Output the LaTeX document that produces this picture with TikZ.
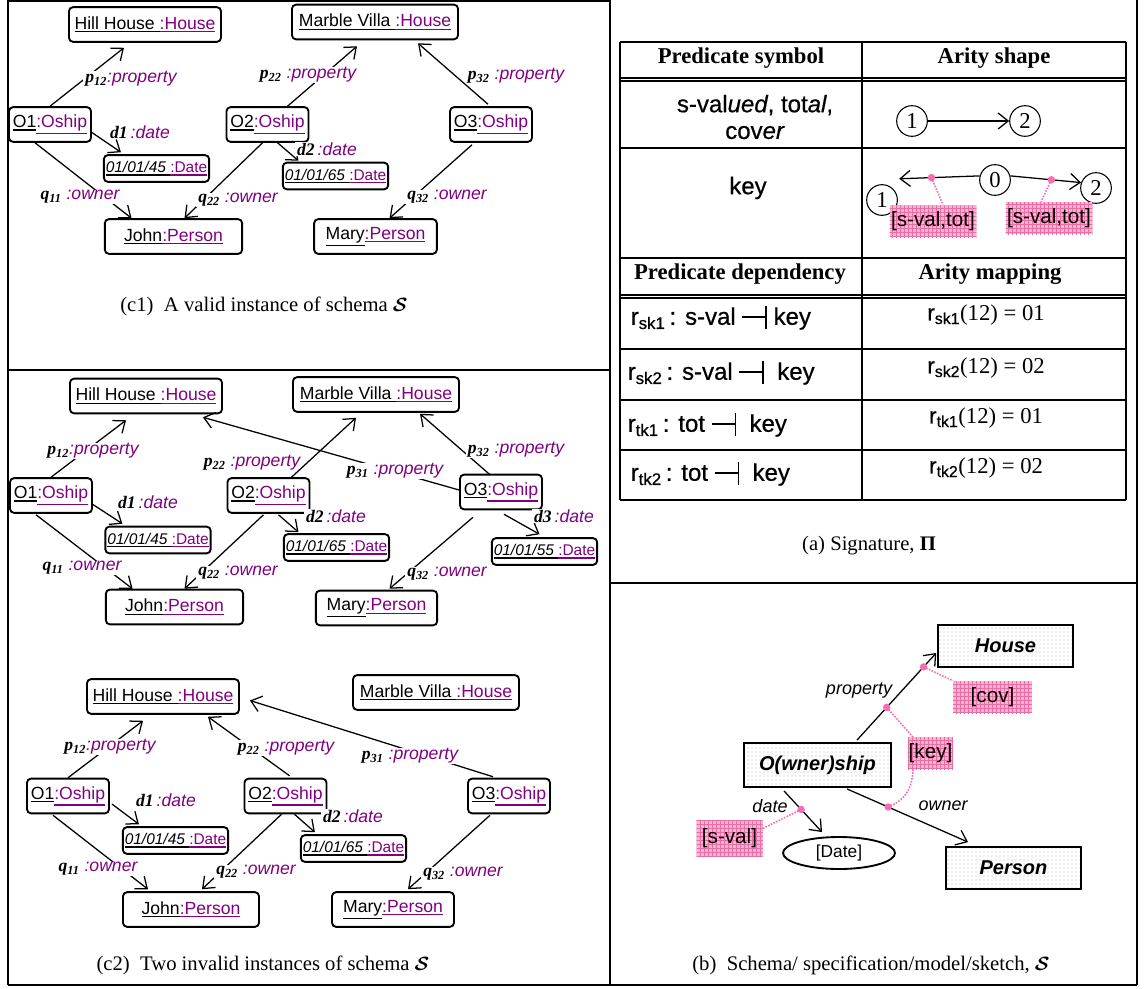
\documentclass[tikz,border=0pt]{standalone}
\usepackage{fontspec}
\setmainfont{Liberation Serif}
\setsansfont{Liberation Sans}
\newfontfamily\tblsans{Liberation Sans}[FakeBold=0.6]
\usepackage{xcolor}
\usepackage{tikz}
\usetikzlibrary{arrows.meta,calc,patterns,shapes.geometric}
\definecolor{typurple}{RGB}{128, 0, 128}
\definecolor{annpink}{RGB}{245, 110, 180}
\definecolor{lblpink}{RGB}{250, 180, 208}
\definecolor{lblgrid}{RGB}{232, 110, 165}

\newcommand{\uln}[1]{\vtop{\hbox{#1}\kern1.2pt\hrule height 1pt}}
\newcommand{\objlbl}[2]{\uln{#1}\textcolor{typurple}{\uln{#2}}}
\newcommand{\rvar}[1]{{\rmfamily\bfseries\itshape #1}}
\newcommand{\rname}[2]{\rvar{#1}\textsubscript{\rvar{#2}}}
\newcommand{\rtype}[1]{\textcolor{typurple}{\sffamily\itshape #1}}
\newcommand{\dashbar}{\rule[0.3em]{0.95em}{1.3pt}\rule[-0.18em]{1.3pt}{0.95em}}
\newcommand{\schemaS}{{\boldmath$\mathcal{S}$}}

\begin{document}
\begin{tikzpicture}[x=0.75pt, y=-0.75pt,
  objbox/.style={draw, rounded corners=3pt, line width=1.4pt, inner sep=0pt,
    minimum height=26pt, font=\sffamily\fontsize{13.2}{15}\selectfont},
  datebox/.style={objbox, minimum width=79pt, minimum height=20pt,
    font=\sffamily\fontsize{11.6}{13}\selectfont},
  elab/.style={fill=white, inner xsep=1.5pt, inner ysep=0.5pt,
    font=\sffamily\fontsize{13.2}{15}\selectfont},
  rel/.style={line width=0.95pt, -{Straight Barb[length=7.5pt,width=12pt]}},
  panelrule/.style={line width=1.1pt},
  arity/.style={circle, draw, line width=0.8pt, minimum size=23pt, inner sep=0pt,
    font=\rmfamily\fontsize{17}{20}\selectfont},
  ann/.style={annpink, densely dotted, line width=1.2pt},
  annlbl/.style={preaction={fill=lblpink}, pattern=grid, pattern color=lblgrid,
    inner sep=0pt, minimum height=24pt, font=\sffamily\fontsize{15.5}{18}\selectfont},
  classbox/.style={draw, line width=1.4pt, preaction={fill=white}, pattern=dots,
    pattern color=black!28, minimum width=101pt, minimum height=31.5pt,
    font=\sffamily\bfseries\itshape\fontsize{15}{18}\selectfont},
  tbltext/.style={font=\tblsans\fontsize{18}{20}\selectfont},
  tblhead/.style={font=\rmfamily\bfseries\fontsize{17}{20}\selectfont},
  figcap/.style={font=\rmfamily\fontsize{15.5}{18}\selectfont}]
\useasboundingbox (0,0) rectangle (1144,988);

% Panel frames
\draw[panelrule] (8,1) -- (610,1);
\draw[panelrule] (8,0) -- (8,985);
\draw[panelrule] (610,0) -- (610,985);
\draw[panelrule] (1137,0) -- (1137,985);
\draw[panelrule] (8,370) -- (610,370);
\draw[panelrule] (8,985) -- (1137,985);
\draw[line width=2pt] (610,583) -- (1137,583);

% (c1) A valid instance
\node[objbox, minimum width=114pt] (hh1) at (145,24.5) {\objlbl{Hill House }{:House}};
\node[objbox, minimum width=124.5pt] (mv1) at (375,22) {\objlbl{Marble Villa }{:House}};
\node[objbox, minimum width=61.5pt] (o11) at (50,124.5) {\objlbl{O1}{:Oship}};
\node[datebox] (d11) at (156.5,168.5) {\objlbl{\itshape 01/01/45 }{:Date}};
\node[objbox, minimum width=61.5pt] (o21) at (267.5,124.5) {\objlbl{O2}{:Oship}};
\node[datebox] (d21) at (335.5,176) {\objlbl{\itshape 01/01/65 }{:Date}};
\node[objbox, minimum width=61.5pt] (o31) at (491,124.5) {\objlbl{O3}{:Oship}};
\node[objbox, minimum width=103pt] (jo1) at (173.5,236.5) {\objlbl{John}{:Person}};
\node[objbox, minimum width=92pt] (ma1) at (375.5,236.5) {\objlbl{Mary}{:Person}};

\draw[rel] (o11.north) -- ($(hh1.south)+(-21,5)$);
\draw[rel] ($(o11.east)+(0,8)$) -- ($(d11.north west)+(18,-2)$);
\draw[rel] ($(o11.south)+(-15,0)$) -- ($(jo1.north)+(-42,0)$);
\draw[rel] ($(o21.north)+(20,0)$) -- ($(mv1.south)+(-18,6)$);
\draw[rel] ($(o21.south)+(10,0)$) -- ($(d21.north)+(-37,-1)$);
\draw[rel] ($(o21.south)+(-5,0)$) -- ($(jo1.north)+(11,0)$);
\draw[rel] ($(o31.north)+(-3,-2)$) -- ($(mv1.south)+(43,3)$);
\draw[rel] ($(o31.south)+(-19,2)$) -- ($(ma1.north)+(14,0)$);

\node[elab] (p12a) at (131,79) {\rname{p}{12}\rtype{:property}};
\node[elab] (d1a) at (140,132) {\rvar{d1}\,\rtype{:date}};
\node[elab] (q11a) at (80,197) {\rname{q}{11} \rtype{:owner}};
\node[elab] (p22a) at (308,75) {\rname{p}{22} \rtype{:property}};
\node[elab] (d2a) at (327,149) {\rvar{d2}\,\rtype{:date}};
\node[elab] (q22a) at (238,200) {\rname{q}{22} \rtype{:owner}};
\node[elab] (p32a) at (516,76) {\rname{p}{32} \rtype{:property}};
\node[elab] (q32a) at (447,197) {\rname{q}{32} \rtype{:owner}};

\node[figcap] (capc1) at (264,306) {(c1)\ \ A valid instance of schema \schemaS};

% (c2) first invalid instance
\node[objbox, minimum width=114pt] (hh2) at (146,396) {\objlbl{Hill House }{:House}};
\node[objbox, minimum width=124.5pt] (mv2) at (376,394.5) {\objlbl{Marble Villa }{:House}};
\node[objbox, minimum width=61.5pt] (o12) at (51,495.5) {\objlbl{O1}{:Oship}};
\node[datebox] (d12) at (158,540) {\objlbl{\itshape 01/01/45 }{:Date}};
\node[objbox, minimum width=61.5pt] (o22) at (268.5,495.5) {\objlbl{O2}{:Oship}};
\node[datebox] (d22) at (336.5,547.5) {\objlbl{\itshape 01/01/65 }{:Date}};
\node[objbox, minimum width=61.5pt] (o32) at (501,492) {\objlbl{O3}{:Oship}};
\node[datebox] (d32) at (544.5,551.5) {\objlbl{\itshape 01/01/55 }{:Date}};
\node[objbox, minimum width=103pt] (jo2) at (174.5,607) {\objlbl{John}{:Person}};
\node[objbox, minimum width=91pt] (ma2) at (376.5,608) {\objlbl{Mary}{:Person}};

\draw[rel] (o12.north) -- ($(hh2.south)+(-20,6)$);
\draw[rel] ($(o12.east)+(0,9)$) -- ($(d12.north west)+(18,-2)$);
\draw[rel] ($(o12.south)+(-15,1)$) -- ($(jo2.north)+(-42,0)$);
\draw[rel] ($(o32.west)+(0,-2)$) -- ($(hh2.south east)+(-20,3)$);
\draw[rel] ($(o32.north)+(-11,1)$) -- ($(mv2.south)+(44,1)$);
\draw[rel] ($(o22.south)+(10,1)$) -- ($(d22.north)+(-38,-1)$);
\draw[rel] ($(o22.south)+(-5,1)$) -- ($(jo2.north)+(10,0)$);
\draw[rel] ($(o32.south)+(3,4)$) -- ($(d32.north)+(-5,-3)$);
\draw[rel] ($(o32.south)+(-28,7)$) -- ($(ma2.north)+(13,-1)$);

\node[elab] (p12b) at (93,451) {\rname{p}{12}\rtype{:property}};
\node[elab] (d1b) at (148,502) {\rvar{d1}\,\rtype{:date}};
\node[elab] (q11b) at (82,568) {\rname{q}{11} \rtype{:owner}};
\node[elab] (p22b) at (252,463) {\rname{p}{22} \rtype{:property}};
\node[elab] (p31b) at (395,471) {\rname{p}{31} \rtype{:property}};
\node[elab] (p32b) at (516,450) {\rname{p}{32} \rtype{:property}};
\node[elab] (d2b) at (336,516) {\rvar{d2}\,\rtype{:date}};
\node[elab] (q22b) at (238,573) {\rname{q}{22} \rtype{:owner}};
\node[elab] (d3b) at (564,516) {\rvar{d3}\,\rtype{:date}};
\node[elab] (q32b) at (447,574) {\rname{q}{32} \rtype{:owner}};
% this one runs across its label
\draw[rel] ($(o22.north)+(23,0)$) -- ($(mv2.south)+(-20,5)$);

% (c2) second invalid instance
\node[objbox, minimum width=114pt] (hh3) at (163,696.5) {\objlbl{Hill House }{:House}};
\node[objbox, minimum width=124.5pt] (mv3) at (436,692.5) {\objlbl{Marble Villa }{:House}};
\node[objbox, minimum width=61.5pt] (o13) at (68,796) {\objlbl{O1}{:Oship}};
\node[datebox] (d13) at (175.5,840.5) {\objlbl{\itshape 01/01/45 }{:Date}};
\node[objbox, minimum width=61.5pt] (o23) at (285.5,796) {\objlbl{O2}{:Oship}};
\node[datebox] (d23) at (353.5,848.5) {\objlbl{\itshape 01/01/65 }{:Date}};
\node[objbox, minimum width=61.5pt] (o33) at (509,796) {\objlbl{O3}{:Oship}};
\node[objbox, minimum width=102pt] (jo3) at (191,909.5) {\objlbl{John}{:Person}};
\node[objbox, minimum width=91.5pt] (ma3) at (393,909.5) {\objlbl{Mary}{:Person}};

\draw[rel] (o13.north) -- ($(hh3.south)+(-20,6)$);
\draw[rel] ($(o23.north)+(4,-2)$) -- ($(hh3.south)+(45,2)$);
\draw[rel] ($(o33.north)+(-16,-1)$) -- ($(hh3.east)+(10,4)$);
\draw[rel] ($(o13.east)+(2,8)$) -- ($(d13.north west)+(17,-2)$);
\draw[rel] ($(o23.south)+(9,0)$) -- ($(d23.north west)+(15,-2)$);
\draw[rel] ($(o13.south)+(-15,1)$) -- ($(jo3.north)+(-43,-2)$);
\draw[rel] ($(o23.south)+(-4,0)$) -- ($(jo3.north)+(11,-2)$);
\draw[rel] ($(o33.south)+(-19,1)$) -- ($(ma3.north)+(15,-2)$);

\node[elab] (p12c) at (110,747) {\rname{p}{12}\rtype{:property}};
\node[elab] (p22c) at (286,748) {\rname{p}{22} \rtype{:property}};
\node[elab] (p31c) at (410,756) {\rname{p}{31} \rtype{:property}};
\node[elab] (d1c) at (166,800) {\rvar{d1}\,\rtype{:date}};
\node[elab] (d2c) at (353,816) {\rvar{d2}\,\rtype{:date}};
\node[elab] (q11c) at (98,869) {\rname{q}{11} \rtype{:owner}};
\node[elab] (q22c) at (256,872) {\rname{q}{22} \rtype{:owner}};
\node[elab] (q32c) at (463,874) {\rname{q}{32} \rtype{:owner}};

\node[figcap] (capc2) at (263,965) {(c2)\ \ Two invalid instances of schema \schemaS};

% (a) Signature table
\draw[line width=0.8pt] (620,42) -- (1126,42);
\foreach \y in {78,81,148,295,298,349,400,450,500}
  \draw[line width=0.8pt] (620,\y) -- (1126,\y);
\draw[line width=2.2pt] (620,258) -- (1126,258);
\foreach \x in {620,862,1126}
  \draw[line width=0.8pt] (\x,42) -- (\x,500);

\node[tblhead] (hps) at (741,58) {Predicate symbol};
\node[tblhead] (has) at (994,58) {Arity shape};
\node[tbltext, align=center] (svt) at (755,117)
  {s-val\textit{ued}, tot\textit{al},\\cov\textit{er}};
\node[tbltext] (kyt) at (748,188) {key};

\node[arity] (a1) at (912,121) {1};
\node[arity] (a2) at (1025,121) {2};
\draw[rel] (a1) -- (a2);

\node[arity] (k1) at (882,200) {1};
\node[arity] (k0) at (995,180) {0};
\node[arity] (k2) at (1096,188) {2};
\draw[rel] (k0.165) -- coordinate[pos=0.6] (kd1) ($(k1.north east)+(6,-10)$);
\draw[rel] (k0.15) -- coordinate[pos=0.58] (kd2) (k2.160);
\node[annlbl, minimum width=65pt] (sv1) at (933,221) {[s-val,tot]};
\node[annlbl, minimum width=65pt] (sv2) at (1049,218) {[s-val,tot]};
\draw[ann] (kd1) -- ($(sv1.north)+(10,0)$);
\draw[ann] (kd2) -- ($(sv2.north)+(-8,0)$);
\fill[annpink] (kd1) circle[radius=2.8pt];
\fill[annpink] (kd2) circle[radius=2.8pt];

\node[tblhead] (hpd) at (740,274) {Predicate dependency};
\node[tblhead] (ham) at (990,274) {Arity mapping};
\node[tbltext, anchor=west] (rs1) at (626,318) {r\textsubscript{sk1}\,: s-val \dashbar\ key};
\node[tbltext, anchor=west] (rs2) at (623,373) {r\textsubscript{sk2}\,: s-val \dashbar\ \ key};
\node[tbltext, anchor=west] (rt1) at (623,425) {r\textsubscript{tk1}\,: tot \dashbar\ \ key};
\node[tbltext, anchor=west] (rt2) at (626,474) {r\textsubscript{tk2}\,: tot \dashbar\ \ key};
\node[font=\rmfamily\fontsize{17}{20}\selectfont] (ms1) at (986,315) {{\tblsans r\textsubscript{sk1}}(12) = 01};
\node[font=\rmfamily\fontsize{17}{20}\selectfont] (ms2) at (986,368) {{\tblsans r\textsubscript{sk2}}(12) = 02};
\node[font=\rmfamily\fontsize{17}{20}\selectfont] (mt1) at (986,418) {{\tblsans r\textsubscript{tk1}}(12) = 01};
\node[font=\rmfamily\fontsize{17}{20}\selectfont] (mt2) at (986,468) {{\tblsans r\textsubscript{tk2}}(12) = 02};

\node[figcap] (capa) at (869,546) {(a) Signature, \textbf{Π}};

% (b) Schema
\node[classbox] (hs) at (1005.5,646) {House};
\node[classbox, minimum width=110pt, minimum height=33pt] (ow) at (817.5,765) {O(wner)ship};
\node[classbox] (ps) at (1013.5,868) {Person};
\node[ellipse, draw, line width=1.4pt, minimum width=84pt, minimum height=24pt,
  inner sep=0pt, font=\sffamily\fontsize{13}{15}\selectfont] (dt) at (839,853) {[Date]};

\draw[rel] ($(ow.north)+(39.5,-2)$) -- coordinate[pos=0.375] (pk) coordinate[pos=0.84] (pc)
  ($(hs.south west)+(-1,-15)$);
\draw[rel] ($(ow.south)+(29.5,1)$) -- coordinate[pos=0.34] (po) ($(ps.north)+(-45.5,-4)$);
\draw[rel] ($(ow.south)+(-33.5,3)$) -- coordinate[pos=0.45] (pd) ($(dt.north)+(-17,-4)$);
\node[font=\sffamily\itshape\fontsize{13.5}{16}\selectfont] (lpr) at (859,691) {property};
\node[font=\sffamily\itshape\fontsize{13.5}{16}\selectfont] (low) at (943,806) {owner};
\node[font=\sffamily\itshape\fontsize{13.5}{16}\selectfont] (ldt) at (770,806) {date};

\node[annlbl, minimum width=59pt] (cov) at (992.5,697) {[cov]};
\node[annlbl, minimum width=34pt] (key) at (930.5,753) {[key]};
\node[annlbl, minimum width=49.5pt, minimum height=27pt] (sva) at (729.5,838.5) {[s-val]};
\draw[ann] (pc) -- (cov.north west);
\draw[ann] (pk) -- ($(key.north)+(-17,1)$);
\draw[ann] ($(key.south)+(-17.5,0)$) .. controls (912,790) and (905,800) .. (po);
\draw[ann] (pd) -- ($(sva.east)+(0,-10)$);
\foreach \p in {pk,pc,po,pd}
  \fill[annpink] (\p) circle[radius=2.8pt];

\node[figcap] (capb) at (871,965) {(b)\ \ Schema/ specification/model/sketch, \schemaS};
\end{tikzpicture}
\end{document}
